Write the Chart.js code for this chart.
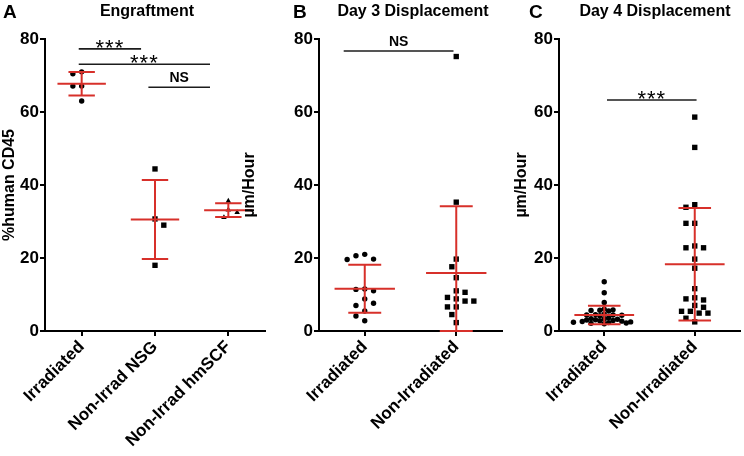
<!DOCTYPE html>
<html>
<head>
<meta charset="utf-8">
<script src="https://cdn.jsdelivr.net/npm/chart.js@4.4.1/dist/chart.umd.min.js"></script>
<style>
  html, body { margin: 0; padding: 0; background: #fff; }
  #wrap { position: relative; width: 744px; height: 456px; overflow: hidden; }
  #wrap canvas { position: absolute; top: 0; }
</style>
</head>
<body>
<div id="wrap">
  <canvas id="chartA" width="270" height="456" style="left:0px"></canvas>
  <canvas id="chartB" width="270" height="456" style="left:240px"></canvas>
  <canvas id="chartC" width="244" height="456" style="left:500px"></canvas>
</div>
<script>
// ============================================================
// Data
// ============================================================
const yTicks = [0, 20, 40, 60, 80];

// Panel A - Engraftment (%human CD45)
const engraftLabels = ['Irradiated', 'Non-Irrad NSG', 'Non-Irrad hmSCF'];
const engraftIrr = [70.5, 71.0, 67.1, 67.1, 63.0];
const engraftNsg = [44.4, 30.7, 29.0, 18.0];
const engraftHmscf = [35.6, 33.2, 32.5, 31.1];

// Panels B and C - displacement (um/hour)
const dispLabels = ['Irradiated', 'Non-Irradiated'];
const day3Irr = [21.0, 20.6, 19.7, 19.6, 11.5, 11.4, 11.0, 8.8, 7.6, 7.0, 5.5, 4.1, 2.8];
const day3NonIrr = [75.2, 35.3, 19.7, 17.6, 14.6, 11.0, 10.6, 9.2, 8.8, 8.2, 8.2, 6.6, 6.6, 4.5, 2.3];
const day4Irr = [13.5, 10.5, 7.8, 6.0, 5.8, 5.7, 5.6, 5.5, 4.6, 4.5, 4.4, 4.4, 4.3, 4.2, 3.6,
                 3.4, 3.3, 3.2, 3.1, 3.0, 2.9, 2.8, 2.7, 2.6, 2.5, 2.4, 2.3, 2.2, 2.1, 2.0];
const day4NonIrr = [58.6, 50.3, 34.6, 33.9, 29.5, 29.5, 23.3, 22.8, 22.8, 19.7, 17.2, 11.6,
                    9.1, 8.8, 8.5, 7.0, 6.5, 5.4, 5.4, 4.9, 4.9, 3.5, 2.5];

// Significance brackets (x in category units, y in data units)
const sigA = [
    { from: -0.04, to: 0.81, y: 77.3, label: '***' },
    { from: -0.04, to: 1.75, y: 73.1, label: '***' },
    { from: 0.91, to: 1.75, y: 66.8, label: 'NS' }
];
const sigB = [{ from: -0.23, to: 0.97, y: 76.7, label: 'NS' }];
const sigC = [{ from: 0.03, to: 1.02, y: 63.3, label: '***' }];

// ============================================================
// Helpers
// ============================================================
const RED = '#d7302a';
const INK = '#000';
const ARIAL = "'Liberation Sans', Arial, sans-serif";

function mean(a) { return a.reduce((s, v) => s + v, 0) / a.length; }
function sd(a) {
    const m = mean(a);
    return Math.sqrt(a.reduce((s, v) => s + (v - m) ** 2, 0) / (a.length - 1));
}

// mean line + SD whiskers, as one broken line
function errorBars(groups) {
    const pts = [];
    groups.forEach((vals, i) => {
        const m = mean(vals), s = sd(vals);
        const lo = Math.max(0, m - s), hi = m + s;
        pts.push({ x: i - 0.33, y: m }, { x: i + 0.33, y: m }, { x: i, y: null });
        pts.push({ x: i - 0.18, y: hi }, { x: i + 0.18, y: hi }, { x: i, y: null });
        pts.push({ x: i - 0.18, y: lo }, { x: i + 0.18, y: lo }, { x: i, y: null });
        pts.push({ x: i, y: lo }, { x: i, y: hi }, { x: i, y: null });
    });
    return pts;
}

function bracketLines(sig) {
    const pts = [];
    sig.forEach(s => pts.push({ x: s.from, y: s.y }, { x: s.to, y: s.y }, { x: s.to, y: null }));
    return pts;
}

// simple beeswarm so points with close values spread sideways
function swarm(values, center, xScale, yScale, minDist) {
    const step = 4.4;
    const pxPerUnit = xScale.getPixelForValue(1) - xScale.getPixelForValue(0);
    const order = values.map((v, i) => i).sort((a, b) => values[b] - values[a]);
    const placed = [];
    const offsets = new Array(values.length).fill(0);
    order.forEach((i, n) => {
        const py = yScale.getPixelForValue(values[i]);
        const side = n % 2 ? -1 : 1;
        for (let k = 0; k < 60; k++) {
            const dx = k === 0 ? 0 : Math.ceil(k / 2) * step * (k % 2 ? side : -side);
            if (placed.every(p => Math.hypot(p.x - dx, p.y - py) >= minDist)) {
                placed.push({ x: dx, y: py });
                offsets[i] = dx;
                break;
            }
        }
    });
    return values.map((v, i) => ({ x: center + offsets[i] / pxPerUnit, y: v }));
}

const panelText = {
    id: 'panelText',
    afterDraw(chart, args, opts) {
        const { ctx, scales } = chart;
        ctx.save();
        ctx.fillStyle = INK;
        ctx.textBaseline = 'alphabetic';
        ctx.font = `bold 19px ${ARIAL}`;
        ctx.textAlign = 'left';
        ctx.fillText(opts.letter, opts.letterX, 18);
        ctx.font = `bold 16px ${ARIAL}`;
        ctx.textAlign = 'center';
        ctx.fillText(opts.title, opts.titleX, 16);

        opts.sig.forEach(s => {
            const x = scales.x.getPixelForValue((s.from + s.to) / 2);
            const y = scales.y.getPixelForValue(s.y);
            if (s.label === 'NS') {
                ctx.font = `bold 14px ${ARIAL}`;
                ctx.letterSpacing = '0px';
                ctx.fillText(s.label, x, y - 5);
            } else {
                ctx.font = `22px ${ARIAL}`;
                ctx.letterSpacing = '1px';
                ctx.fillText(s.label, x, y + 6);
            }
        });
        ctx.restore();
    }
};

// ============================================================
// Panel builder
// ============================================================
function makePanel(id, cfg) {
    const n = cfg.labels.length;
    const axisGrid = {
        drawOnChartArea: false,
        drawTicks: true,
        tickLength: 5,
        color: INK,
        lineWidth: 2
    };

    const datasets = [
        {
            data: errorBars(cfg.groups),
            showLine: true, spanGaps: false,
            borderColor: RED, borderWidth: 2,
            pointRadius: 0, clip: 3
        },
        {
            data: bracketLines(cfg.sig),
            showLine: true, spanGaps: false,
            borderColor: '#1c1c1c', borderWidth: 1.6,
            pointRadius: 0, clip: false
        },
        ...cfg.groups.map((vals, i) => ({
            data: vals.map(v => ({ x: i, y: v })),
            pointStyle: cfg.markers[i],
            pointRadius: cfg.radius[i],
            backgroundColor: INK,
            borderColor: INK,
            borderWidth: 0,
            clip: false
        }))
    ];

    const chart = new Chart(document.getElementById(id), {
        type: 'scatter',
        data: { datasets },
        plugins: [panelText],
        options: {
            responsive: false,
            animation: false,
            events: [],
            layout: { padding: { top: 39, right: cfg.padRight, bottom: 0, left: 0 } },
            plugins: {
                legend: { display: false },
                tooltip: { enabled: false },
                panelText: {
                    letter: cfg.letter, letterX: cfg.letterX,
                    title: cfg.title, titleX: cfg.titleX,
                    sig: cfg.sig
                }
            },
            scales: {
                x: {
                    type: 'linear',
                    min: -0.5,
                    max: n - 0.5,
                    grid: axisGrid,
                    border: { display: true, color: INK, width: 2 },
                    afterBuildTicks: scale => { scale.ticks = cfg.labels.map((_, i) => ({ value: i })); },
                    afterFit: scale => { scale.height = 125; },
                    ticks: {
                        autoSkip: false,
                        minRotation: 45,
                        maxRotation: 45,
                        padding: 1,
                        color: INK,
                        font: { family: ARIAL, size: 17, weight: 'bold' },
                        callback: v => cfg.labels[v]
                    }
                },
                y: {
                    type: 'linear',
                    min: 0,
                    max: 80,
                    grid: axisGrid,
                    border: { display: true, color: INK, width: 2 },
                    afterBuildTicks: scale => { scale.ticks = yTicks.map(v => ({ value: v })); },
                    afterFit: scale => { scale.width = cfg.yWidth; },
                    ticks: {
                        padding: 1,
                        color: INK,
                        font: { family: ARIAL, size: 17, weight: 'bold' }
                    },
                    title: {
                        display: true,
                        text: cfg.yTitle,
                        color: INK,
                        font: { family: ARIAL, size: 16, weight: 'bold' },
                        padding: { top: cfg.titlePad, bottom: 0 }
                    }
                }
            }
        }
    });

    // spread the dots once the scales are known
    cfg.groups.forEach((vals, i) => {
        chart.data.datasets[i + 2].data = swarm(vals, i, chart.scales.x, chart.scales.y, cfg.minDist[i]);
    });
    chart.update('none');
    return chart;
}

makePanel('chartA', {
    letter: 'A', letterX: 3, title: 'Engraftment', titleX: 147,
    labels: engraftLabels,
    groups: [engraftIrr, engraftNsg, engraftHmscf],
    markers: ['circle', 'rect', 'triangle'],
    radius: [2.7, 3.8, 3.2],
    minDist: [8, 8, 8],
    sig: sigA,
    yTitle: '%human CD45', yWidth: 45, titlePad: 0, padRight: 5
});

makePanel('chartB', {
    letter: 'B', letterX: 53, title: 'Day 3 Displacement', titleX: 173,
    labels: dispLabels,
    groups: [day3Irr, day3NonIrr],
    markers: ['circle', 'rect'],
    radius: [2.7, 3.8],
    minDist: [8, 8],
    sig: sigB,
    yTitle: 'µm/Hour', yWidth: 79, titlePad: 0, padRight: 8
});

makePanel('chartC', {
    letter: 'C', letterX: 29, title: 'Day 4 Displacement', titleX: 155,
    labels: dispLabels,
    groups: [day4Irr, day4NonIrr],
    markers: ['circle', 'rect'],
    radius: [2.7, 3.8],
    minDist: [4.5, 7],
    sig: sigC,
    yTitle: 'µm/Hour', yWidth: 59, titlePad: 12, padRight: 2
});
</script>
</body>
</html>
